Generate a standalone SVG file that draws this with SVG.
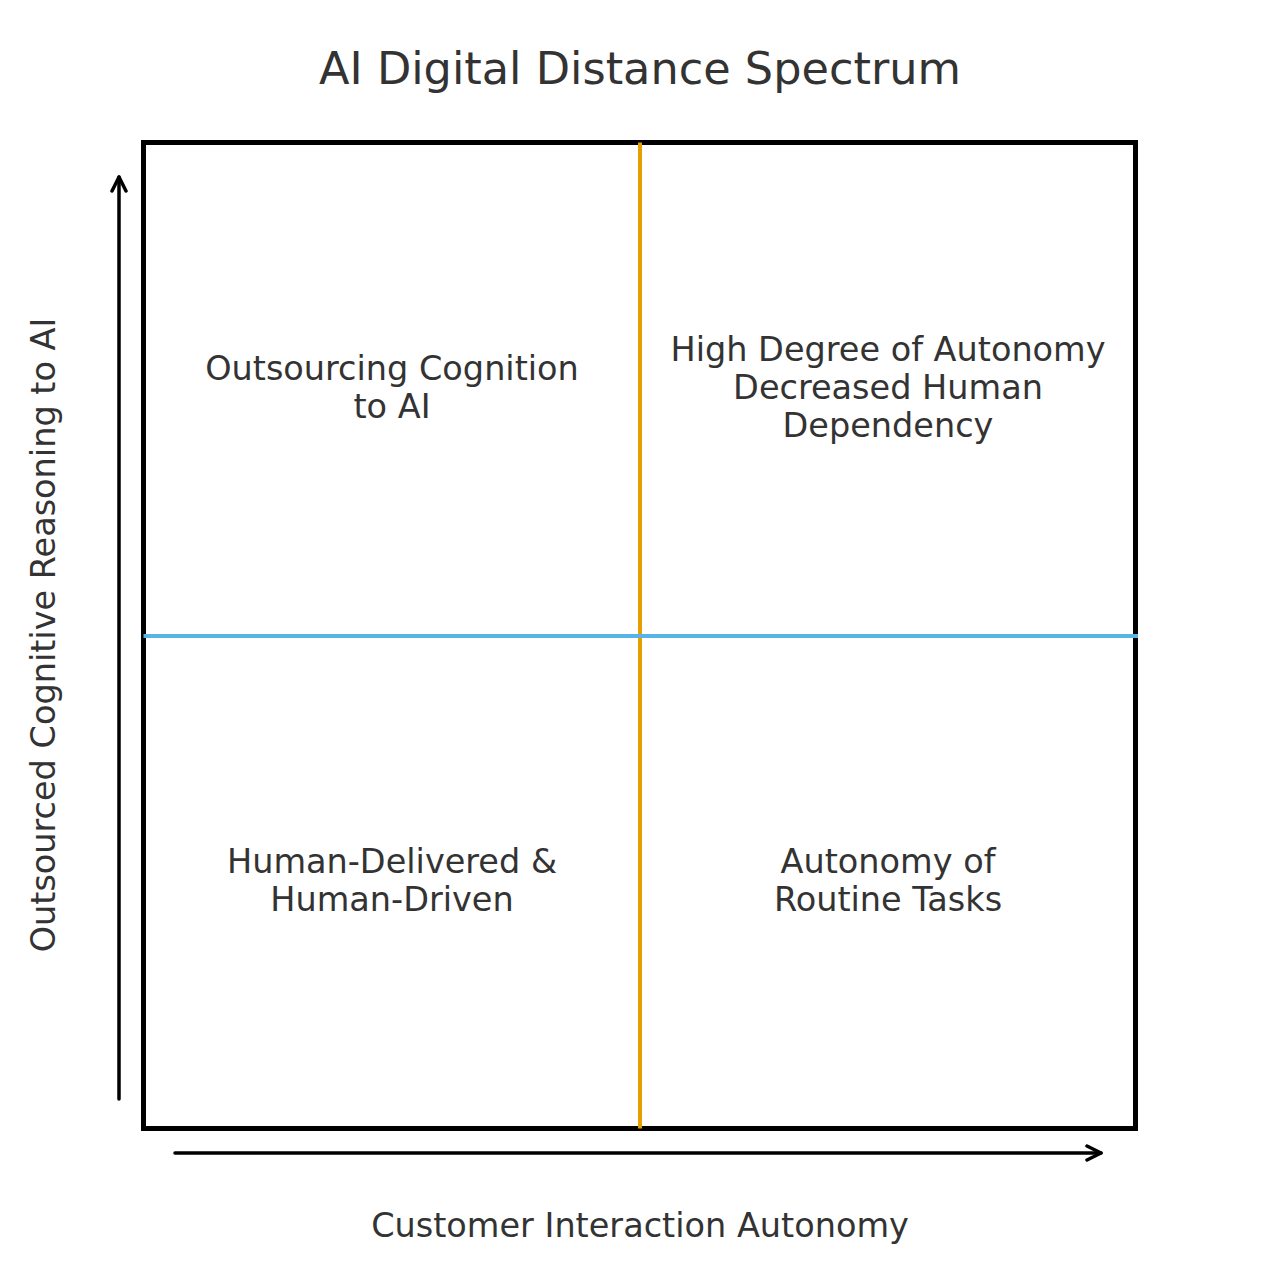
<svg xmlns="http://www.w3.org/2000/svg" width="1280" height="1272" viewBox="0 0 1280 1272">
<style>
text{font-family:"DejaVu Sans",sans-serif;fill:#333333;text-anchor:middle}
.t{font-size:44.6px}
.q{font-size:33.5px}
.a{font-size:33.5px}
.ax{stroke:#000;stroke-width:3.5;fill:none;stroke-linecap:round;stroke-linejoin:round}
</style>
<defs>
<marker id="ah" viewBox="-18 -10 20 20" markerWidth="20" markerHeight="20" refX="0" refY="0" orient="auto" markerUnits="userSpaceOnUse">
<path d="M-14,-7 L0,0 L-14,7" fill="none" stroke="#000" stroke-width="3.5" stroke-linecap="round" stroke-linejoin="round"/>
</marker>
</defs>
<rect width="1280" height="1272" fill="#fff"/>
<text class="t" x="640" y="84">AI Digital Distance Spectrum</text>
<g id="frame">
<rect x="143.5" y="142.5" width="992" height="986" fill="none" stroke="#000" stroke-width="5"/>
</g>
<g id="dividers">
<line x1="640" y1="142.5" x2="640" y2="1128.5" stroke="#E69F00" stroke-width="4"/>
<line x1="143.5" y1="636" x2="1138" y2="636" stroke="#56B4E9" stroke-width="4"/>
</g>
<g id="connectors">
<line class="ax" x1="119" y1="1099" x2="119" y2="177" marker-end="url(#ah)"/>
<line class="ax" x1="175" y1="1153" x2="1101" y2="1153" marker-end="url(#ah)"/>
</g>
<g id="q-tl"><text class="q" x="392" y="380">Outsourcing Cognition</text><text class="q" x="392" y="418">to AI</text></g>
<g id="q-tr"><text class="q" x="888" y="361">High Degree of Autonomy</text><text class="q" x="888" y="399">Decreased Human</text><text class="q" x="888" y="437">Dependency</text></g>
<g id="q-bl"><text class="q" x="392" y="873">Human-Delivered &amp;</text><text class="q" x="392" y="911">Human-Driven</text></g>
<g id="q-br"><text class="q" x="888" y="873">Autonomy of</text><text class="q" x="888" y="911">Routine Tasks</text></g>
<g id="x-label"><text class="a" x="640" y="1237">Customer Interaction Autonomy</text></g>
<g id="y-label"><text class="a" transform="translate(55,635) rotate(-90)">Outsourced Cognitive Reasoning to AI</text></g>
</svg>
